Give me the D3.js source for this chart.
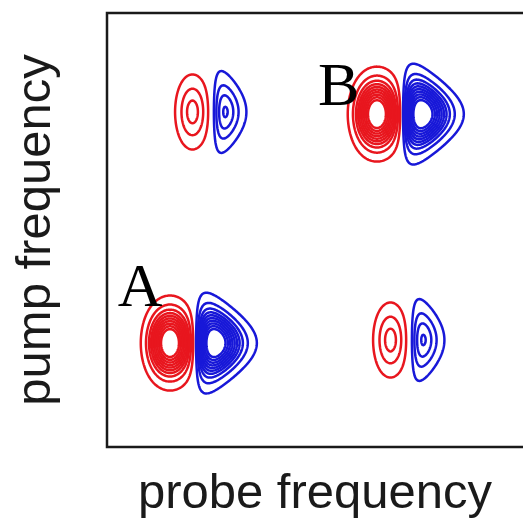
<!DOCTYPE html>
<html>
<head>
<meta charset="utf-8">
<script src="https://cdn.jsdelivr.net/npm/d3@7"></script>
<style>
  body { margin: 0; background: #fff; }
  svg { display: block; }
</style>
</head>
<body>
<script>
// chart size
var W = 523, H = 528;
var plotLeft = 107, plotTop = 13, plotBottom = 447, plotRight = 523;

// peaks: centre of each red/blue pair (probe = x, pump = y), data units 0-100
var peakProbe = [21.15, 70.9, 25.25, 72.85];
var peakPump  = [23.95, 76.7, 77.2, 24.65];
var ampRed    = [1.0, 1.0, 0.36, 0.36];
var ampBlue   = [1.0, 1.0, 0.41, 0.41];
var widthRed  = [6.0, 6.0, 4.7, 4.7];   // probe direction
var widthBlue = [4.8, 4.8, 3.2, 3.2];
var widthPump = [5.1, 5.1, 5.4, 5.4];

// contour levels (same for both signs)
var levels = [0.1, 0.22, 0.32, 0.4, 0.47, 0.54, 0.61, 0.68, 0.75, 0.82];

// peak labels
var labelText  = ["A", "B"];
var labelProbe = [2.6, 50.7];
var labelPump  = [32.5, 78.8];

var x = d3.scaleLinear().domain([0, 100]).range([plotLeft, plotRight]);
var y = d3.scaleLinear().domain([0, 100]).range([plotBottom, plotTop]);

// line shape of the lobes
var pRed = 3, pBlue = 1.7, kBlue = 0.3;

function field(px, py) {
	var f = 0;
	for (var i = 0; i < peakProbe.length; i++) {
		var dx = px - peakProbe[i];
		var v = (py - peakPump[i]) / widthPump[i];
		if (dx < 0) {
			var u = -dx / widthRed[i];
			f -= ampRed[i] * u * Math.exp((1 - Math.pow(u, pRed)) / pRed) * Math.exp(-v * v / 2);
		} else {
			var u = dx / widthBlue[i];
			var s = (1 + kBlue * u) / (1 + kBlue);
			f += ampBlue[i] * u * Math.exp((1 - Math.pow(u, pBlue)) / pBlue) * Math.exp(-v * v * s * s / 2);
		}
	}
	return f;
}

var nx = plotRight - plotLeft, ny = plotBottom - plotTop;
var red = new Float64Array(nx * ny), blue = new Float64Array(nx * ny);
for (var j = 0; j < ny; j++) {
	for (var i = 0; i < nx; i++) {
		var val = field(x.invert(plotLeft + i + 0.5), y.invert(plotTop + j + 0.5));
		red[j * nx + i] = -val;
		blue[j * nx + i] = val;
	}
}

var svg = d3.select("body")
	.append("svg")
	.attr("width", W)
	.attr("height", H);

var contours = d3.contours().size([nx, ny]).thresholds(levels);
var path = d3.geoPath(d3.geoIdentity().translate([plotLeft, plotTop]));

svg.append("g").selectAll("path")
	.data(contours(red))
	.enter()
	.append("path")
	.attr("d", path)
	.attr("fill", "none")
	.attr("stroke", "#e8161e")
	.attr("stroke-width", 2.5);

svg.append("g").selectAll("path")
	.data(contours(blue))
	.enter()
	.append("path")
	.attr("d", path)
	.attr("fill", "none")
	.attr("stroke", "#1818d8")
	.attr("stroke-width", 2.5);

// frame (open on the right, it runs past the window)
svg.append("path")
	.attr("d", "M" + (plotRight + 10) + "," + plotTop + "H" + plotLeft + "V" + plotBottom + "H" + (plotRight + 10))
	.attr("fill", "none")
	.attr("stroke", "#1a1a1a")
	.attr("stroke-width", 2.5);

// labels
svg.selectAll(".peak-label")
	.data(labelText)
	.enter()
	.append("text")
	.attr("class", "peak-label")
	.attr("x", function(d, i) { return x(labelProbe[i]); })
	.attr("y", function(d, i) { return y(labelPump[i]); })
	.style("font-family", "'Liberation Serif', 'Times New Roman', serif")
	.style("font-size", "62px")
	.attr("fill", "#000")
	.text(function(d) { return d; });

svg.append("text")
	.attr("x", 315)
	.attr("y", 508)
	.attr("text-anchor", "middle")
	.style("font-family", "'Liberation Sans', Arial, sans-serif")
	.style("font-size", "49px")
	.attr("fill", "#1a1a1a")
	.text("probe frequency");

svg.append("text")
	.attr("transform", "translate(50,230) rotate(-90)")
	.attr("text-anchor", "middle")
	.style("font-family", "'Liberation Sans', Arial, sans-serif")
	.style("font-size", "49px")
	.attr("fill", "#1a1a1a")
	.text("pump frequency");
</script>
</body>
</html>
